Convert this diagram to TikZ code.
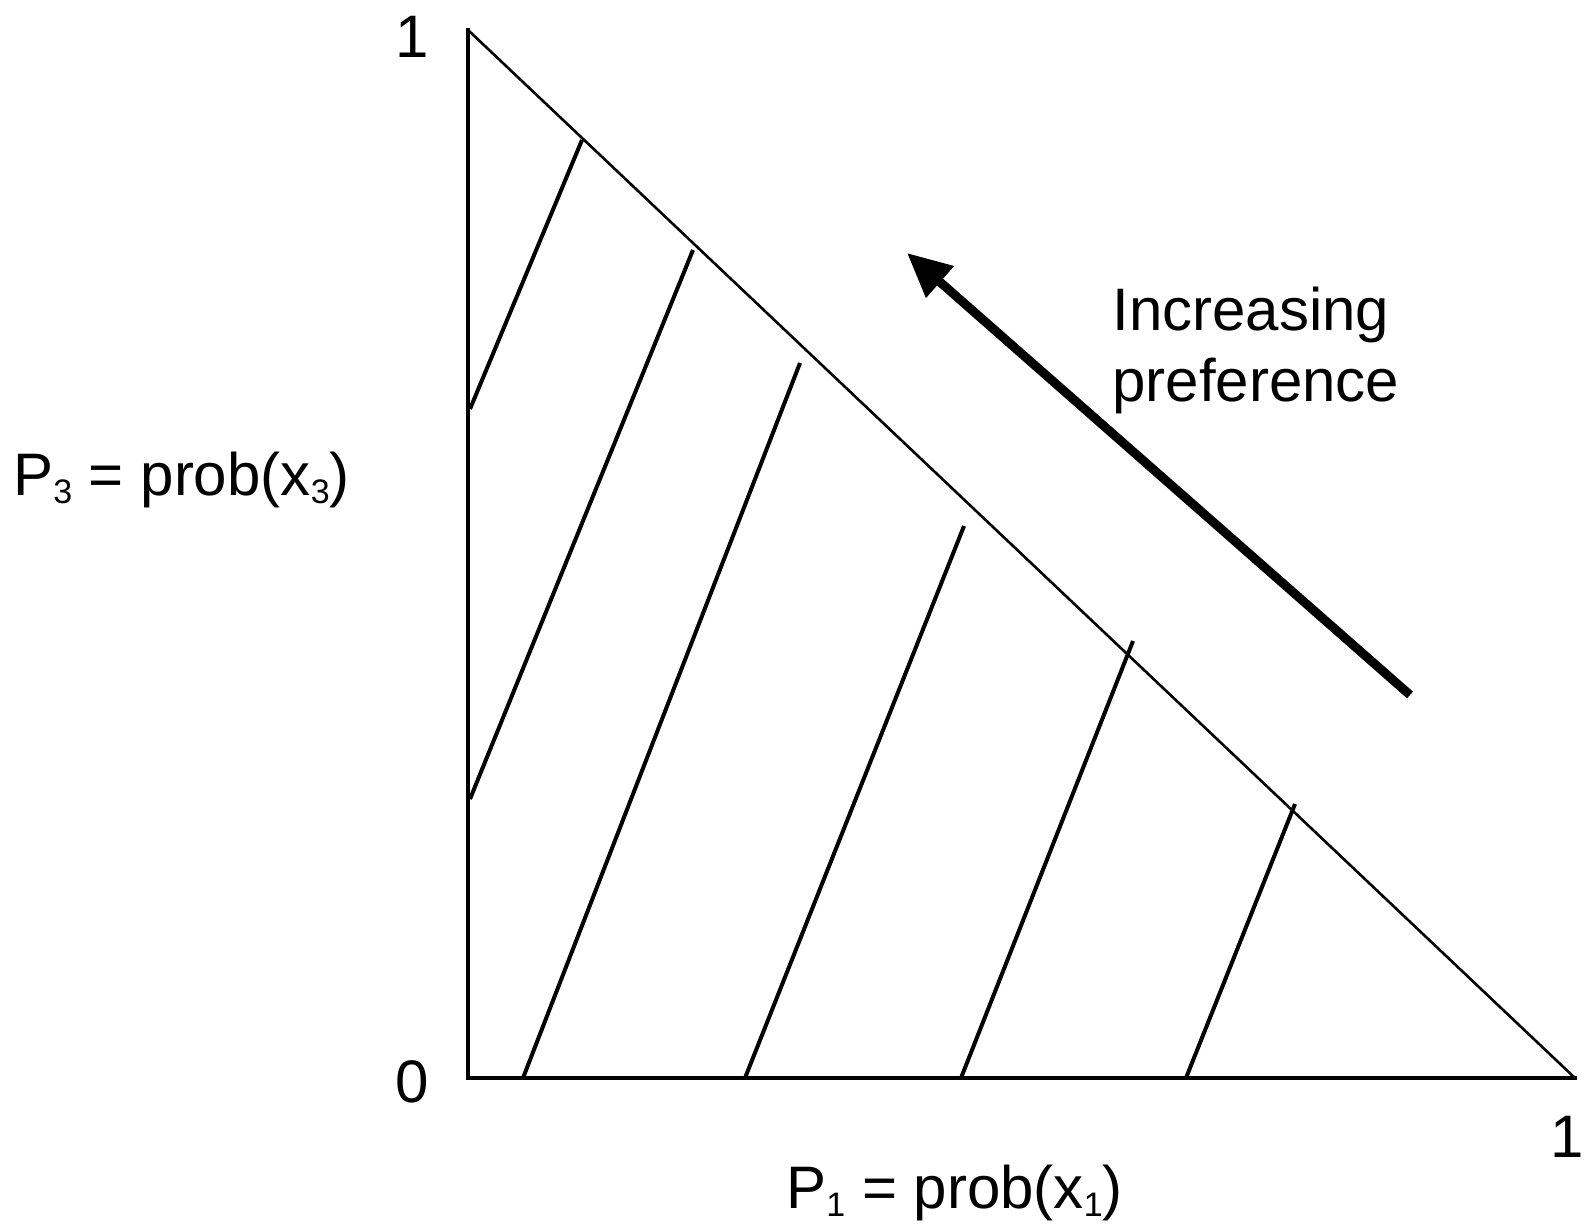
\documentclass[tikz,border=0pt]{standalone}
\usepackage{fontspec}
\setmainfont{Liberation Sans}
\usetikzlibrary{arrows.meta}
\newcommand{\lowsub}[1]{\raisebox{-4pt}{\fontsize{17}{20}\selectfont #1}}
\begin{document}
\begin{tikzpicture}[x=0.5pt,y=-0.5pt,
  axisline/.style={line width=2.4pt,line cap=rect},
  hypline/.style={line width=1.3pt},
  indiff/.style={line width=2pt},
  bigarrow/.style={line width=4.5pt,-{Triangle[length=22pt,width=20pt]}},
  lbl/.style={font=\fontsize{30}{36}\selectfont,inner sep=0pt}]
\useasboundingbox (0,0) rectangle (1585,1225);
% corners
\coordinate (top) at (468,30);
\coordinate (org) at (468,1078);
\coordinate (rgt) at (1575,1078);
% axes and hypotenuse
\draw[axisline] (top) -- (org) -- (rgt);
\draw[hypline] (top) -- (rgt);
% indifference lines
\coordinate (a1) at (470,409);  \coordinate (b1) at (582,140);
\coordinate (a2) at (470,799);  \coordinate (b2) at (693,250);
\coordinate (a3) at (523,1078); \coordinate (b3) at (800,363);
\coordinate (a4) at (745,1078); \coordinate (b4) at (964,526);
\coordinate (a5) at (961,1078); \coordinate (b5) at (1133,641);
\coordinate (a6) at (1186,1078);\coordinate (b6) at (1295,804);
\foreach \i in {1,...,6}{\draw[indiff] (a\i) -- (b\i);}
% arrow
\coordinate (atail) at (1410,695);
\coordinate (ahead) at (907,253);
\draw[bigarrow] (atail) -- (ahead);
% labels
\node[lbl,anchor=base] (one3) at (412,58) {1};
\node[lbl,anchor=base] (zero) at (412,1102) {0};
\node[lbl,anchor=base] (one1) at (1567,1157) {1};
\node[lbl,anchor=base west] (inc) at (1112,330) {Increasing};
\node[lbl,anchor=base west] (pref) at (1112,401) {preference};
\node[lbl,anchor=base west] (p3) at (13,495) {P\lowsub{3} = prob(x\lowsub{3})};
\node[lbl,anchor=base west] (p1) at (786,1208) {P\lowsub{1} = prob(x\lowsub{1})};
\end{tikzpicture}
\end{document}
